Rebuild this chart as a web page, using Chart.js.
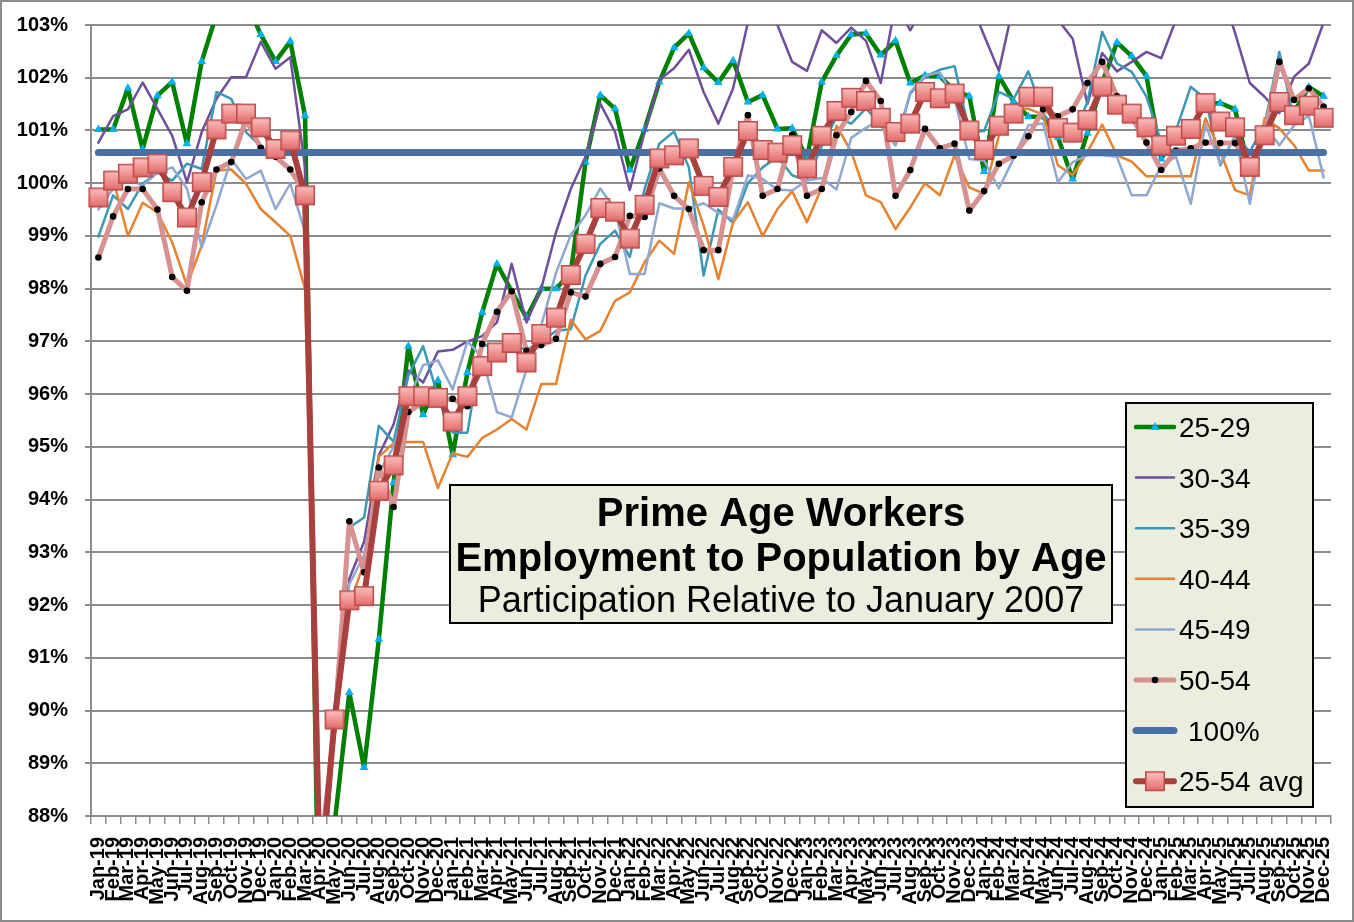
<!DOCTYPE html>
<html>
<head>
<meta charset="utf-8">
<title>Prime Age Workers</title>
<script src="https://cdn.jsdelivr.net/npm/chart.js@4.4.1/dist/chart.umd.min.js"></script>
<style>
  html, body { margin: 0; padding: 0; background: #fff; }
  #wrap { position: relative; width: 1354px; height: 922px; }
</style>
</head>
<body>
<div id="wrap"><canvas id="chart" width="1354" height="922"></canvas></div>
<script>
// month labels, Jan-19 .. Dec-25
const monthNames = ["Jan","Feb","Mar","Apr","May","Jun","Jul","Aug","Sep","Oct","Nov","Dec"];
const years = ["19","20","21","22","23","24","25"];
const labels = [];
years.forEach(y => monthNames.forEach(m => labels.push(m + "-" + y)));

// employment to population, % of January 2007 level
const age2529 = [
  101.02,101.02,101.80,100.65,101.66,101.92,100.75,102.31,103.20,103.60,103.45,102.82,
  102.31,102.69,101.28, 84.50, 87.85, 90.34, 88.92, 91.35, 94.32, 96.91, 95.61, 96.26,
   94.85, 96.41, 97.55, 98.47, 97.95, 97.45, 98.00, 98.00, 98.30,100.40,101.67,101.41,
  100.25,101.02,101.92,102.57,102.84,102.19,101.91,102.32,101.54,101.67,101.03,101.04,
  100.47,101.92,102.42,102.82,102.84,102.43,102.70,101.90,102.04,102.03,101.75,101.65,
  100.22,102.03,101.55,101.26,101.26,100.87,100.08,100.95,101.90,102.67,102.41,102.03,
  100.46,100.95,101.05,101.50,101.52,101.40,100.20,100.90,101.50,101.35,101.82,101.65
];
const age3034 = [
  100.77,101.27,101.40,101.91,101.41,100.90,100.02,100.97,101.60,102.01,102.01,102.68,
  102.17,102.39,100.30, 86.00, 89.60, 92.50, 93.20, 94.84, 95.43, 96.45, 96.22, 96.81,
   96.84, 97.00, 97.10, 97.36, 98.47, 97.36, 98.00, 99.07, 99.89,100.50,101.51,100.97,
   99.87,100.97,101.96,102.18,102.53,101.73,101.13,101.80,103.05,103.80,103.00,102.30,
  102.13,102.90,102.66,102.95,102.70,101.90,103.40,102.90,103.40,103.80,103.90,103.50,
  102.80,102.13,103.40,104.00,103.80,103.10,102.74,101.50,102.47,102.12,102.30,102.49,
  102.37,103.10,103.60,104.00,103.70,102.85,101.90,101.64,101.33,102.02,102.27,103.05
];
const age3539 = [
   98.99, 99.77, 99.51, 99.99,100.20,100.05,100.37,100.27,101.73,101.60,100.97,100.70,
  100.50,100.80, 99.80, 86.50, 90.03, 93.47, 93.66, 95.40, 95.10, 96.35, 96.91, 95.96,
   95.27, 95.27, 96.97, 96.80, 96.90, 96.85, 96.98, 97.20, 97.23, 98.25, 98.85, 99.10,
   98.60, 99.89,100.75,100.98,100.30, 98.25, 99.50, 99.25,100.00,100.30,100.50,100.15,
  100.05,100.70,101.25,101.13,101.42,101.10,100.72,101.70,102.02,102.15,102.22,100.97,
  100.99,101.73,101.60,102.12,101.32,100.97,100.85,101.54,102.87,102.27,102.11,101.64,
  100.78,101.00,101.83,101.60,100.34,100.90,100.60,101.10,102.49,101.20,101.50,101.50
];
const age4044 = [
   99.80,100.08, 99.00, 99.63, 99.45, 98.88, 98.06, 98.82,100.24,100.26, 99.99, 99.51,
   99.26, 99.00, 97.99, 86.80, 89.50, 92.00, 92.80, 94.81, 95.07, 95.09, 95.09, 94.22,
   94.88, 94.81, 95.17, 95.33, 95.53, 95.33, 96.19, 96.19, 97.41, 97.04, 97.20, 97.77,
   97.93, 98.50, 98.91, 98.66,100.02, 99.20, 98.18, 99.26, 99.64, 99.00, 99.51, 99.85,
   99.26, 99.92,101.09,100.60, 99.77, 99.64, 99.13, 99.54,100.00, 99.77,100.53, 99.92,
   99.80,100.90,101.41,101.41,101.30,100.34,100.15,100.59,101.11,100.53,100.41,100.13,
  100.13,100.13,100.13,101.23,100.60, 99.87, 99.77,101.23,101.04,100.72,100.24,100.24
];
const age4549 = [
   99.50, 99.90,100.10, 99.95,100.20,100.30, 99.90, 98.78, 99.58,100.46,100.08,100.24,
   99.51, 99.99, 99.07, 87.30, 89.90, 92.40, 92.94, 94.50, 95.00, 95.90, 96.55, 96.64,
   96.09, 97.00, 96.70, 95.66, 95.56, 96.47, 97.30, 98.30, 99.02, 99.39, 99.90, 99.50,
   98.28, 98.28, 99.62, 99.52, 99.52, 99.62, 99.44, 99.31,100.15,100.08, 99.88, 99.86,
  100.05,100.10, 99.88,100.86,101.05,101.22,100.72,101.73,102.04,102.10,101.60,100.46,
  100.43, 99.90,100.47,101.10,101.13,100.02,100.40,100.53,100.53,100.50, 99.77, 99.77,
  100.34,100.50, 99.61,101.11,100.37,100.90, 99.61,101.10,100.72,101.10,101.28,100.11
];
const age5054 = [
   98.59, 99.37, 99.89, 99.89, 99.50, 98.22, 97.96, 99.64,100.26,100.40,101.20,100.67,
  100.50,100.26, 99.80, 87.20, 89.70, 93.59, 92.62, 94.61, 93.86, 95.66, 95.85, 95.90,
   95.91, 95.77, 96.95, 97.56, 97.95, 96.82, 96.93, 97.05, 97.93, 97.85, 98.47, 98.60,
   99.38, 99.36,100.28, 99.76, 99.51, 98.73, 98.73,100.30,101.29, 99.76, 99.89,100.92,
   99.76, 99.89,100.91,101.35,101.94,101.56, 99.76,100.25,101.03,100.66,100.75, 99.48,
   99.85,100.37,100.52,100.89,101.40,101.27,101.40,101.90,102.30,101.65,101.25,100.77,
  100.25,100.62,100.66,100.77,100.76,100.76,100.30,100.90,102.30,101.58,101.80,101.45
];
const avg2554 = [
   99.73,100.05,100.18,100.30,100.37, 99.83, 99.35,100.02,101.02,101.32,101.32,101.06,
  100.65,100.81, 99.77, 86.60, 89.83, 92.09, 92.17, 94.17, 94.65, 95.96, 95.96, 95.93,
   95.48, 95.96, 96.53, 96.79, 96.97, 96.60, 97.14, 97.45, 98.26, 98.85, 99.53, 99.46,
   98.95, 99.59,100.47,100.53,100.66, 99.95, 99.74,100.31,100.99,100.63,100.58,100.72,
  100.28,100.90,101.37,101.62,101.56,101.24,100.97,101.13,101.73,101.61,101.70,101.00,
  100.63,101.09,101.32,101.64,101.64,101.05,100.96,101.20,101.83,101.49,101.32,101.06,
  100.72,100.90,101.03,101.52,101.17,101.06,100.31,100.91,101.54,101.29,101.47,101.24
];
const refLevel = 100.58;
const refLine = labels.map(() => refLevel);

// y axis range and steps
const yMin = 88, yMax = 103, yStep = 1;

const FONT = "'Liberation Sans', Arial, Helvetica, sans-serif";

// gradient square marker used by the average series
function makeSquare(size) {
  const c = document.createElement("canvas");
  c.width = size + 2; c.height = size + 2;
  const g = c.getContext("2d");
  const grad = g.createLinearGradient(0, 1, 0, size + 1);
  grad.addColorStop(0, "#FBC2C1");
  grad.addColorStop(1, "#E26868");
  g.fillStyle = grad;
  g.fillRect(1, 1, size, size);
  g.strokeStyle = "#BC4A48";
  g.lineWidth = 1.5;
  g.strokeRect(1.75, 1.75, size - 1.5, size - 1.5);
  return c;
}
const squareImg = makeSquare(20);

const series = [
  { label: "25-29", data: age2529, color: "#008000", width: 4.5, marker: "triangle", mColor: "#00B0F0", mRadius: 5 },
  { label: "30-34", data: age3034, color: "#6F4F9C", width: 2.5 },
  { label: "35-39", data: age3539, color: "#3B99B6", width: 2.5 },
  { label: "40-44", data: age4044, color: "#E8822E", width: 2.5 },
  { label: "45-49", data: age4549, color: "#8EA8D2", width: 2.5 },
  { label: "50-54", data: age5054, color: "#D69190", width: 5, marker: "circle", mColor: "#000000", mRadius: 3.3 },
  { label: "100%", data: refLine, color: "#4870A6", width: 7 },
  { label: "25-54 avg", data: avg2554, color: "#A8403E", width: 6, marker: squareImg }
];

const datasets = series.map((s, i) => ({
  label: s.label,
  data: s.data,
  borderColor: s.color,
  borderWidth: s.width,
  borderCapStyle: "round",
  borderJoinStyle: "round",
  tension: 0,
  pointStyle: s.marker || "circle",
  pointRadius: s.marker ? (s.mRadius || 10) : 0,
  pointHoverRadius: s.marker ? (s.mRadius || 10) : 0,
  pointBackgroundColor: s.mColor || s.color,
  pointBorderColor: s.mColor || s.color,
  pointBorderWidth: 0,
  order: series.length - i   // later series drawn on top
}));

// frame, title box and legend
const decorPlugin = {
  id: "decor",
  afterDraw(chart) {
    const ctx = chart.ctx;
    ctx.save();

    // outer frame
    ctx.strokeStyle = "#8C8C8C";
    ctx.lineWidth = 2;
    ctx.strokeRect(1, 1, 1352, 920);

    // title box
    ctx.fillStyle = "#EBEEDF";
    ctx.fillRect(450, 485, 662, 138);
    ctx.strokeStyle = "#000";
    ctx.lineWidth = 2;
    ctx.strokeRect(450, 485, 662, 138);
    ctx.fillStyle = "#000";
    ctx.textAlign = "center";
    ctx.textBaseline = "alphabetic";
    ctx.font = "bold 40px " + FONT;
    ctx.fillText("Prime Age Workers", 781, 526);
    ctx.fillText("Employment to Population by Age", 781, 571);
    ctx.font = "36px " + FONT;
    ctx.fillText("Participation Relative to January 2007", 781, 612);

    // legend
    ctx.fillStyle = "#EBEEDF";
    ctx.fillRect(1126, 403, 187, 404);
    ctx.strokeStyle = "#000";
    ctx.lineWidth = 2;
    ctx.strokeRect(1126, 403, 187, 404);
    ctx.font = "28px " + FONT;
    ctx.textAlign = "left";
    series.forEach((s, i) => {
      const base = 437 + i * 50.6;
      const cy = base - 10;
      ctx.strokeStyle = s.color;
      ctx.lineWidth = s.width;
      ctx.lineCap = "round";
      ctx.beginPath();
      ctx.moveTo(1136, cy);
      ctx.lineTo(1174, cy);
      ctx.stroke();
      if (s.marker === squareImg) {
        ctx.drawImage(squareImg, 1155 - squareImg.width / 2, cy - squareImg.height / 2);
      } else if (s.marker === "triangle") {
        ctx.fillStyle = s.mColor;
        ctx.beginPath();
        ctx.moveTo(1155, cy - 5);
        ctx.lineTo(1159.5, cy + 3);
        ctx.lineTo(1150.5, cy + 3);
        ctx.closePath();
        ctx.fill();
      } else if (s.marker === "circle") {
        ctx.fillStyle = s.mColor;
        ctx.beginPath();
        ctx.arc(1155, cy, 3.3, 0, Math.PI * 2);
        ctx.fill();
      }
      ctx.fillStyle = "#000";
      ctx.fillText(s.label, s.label === "100%" ? 1188 : 1179, base);
    });
    ctx.restore();
  }
};

new Chart(document.getElementById("chart"), {
  type: "line",
  data: { labels: labels, datasets: datasets },
  options: {
    responsive: false,
    animation: false,
    devicePixelRatio: 1,
    layout: { padding: { top: 25, right: 23, bottom: 0, left: 0 } },
    plugins: {
      legend: { display: false },
      tooltip: { enabled: false }
    },
    scales: {
      x: {
        offset: true,
        grid: { display: true, drawOnChartArea: false, drawTicks: true, tickLength: 8, color: "#8C8C8C", lineWidth: 1.5, offset: true },
        border: { display: true, color: "#8C8C8C", width: 2 },
        ticks: {
          autoSkip: false, maxRotation: 90, minRotation: 90, padding: 13,
          color: "#000", font: { family: FONT, weight: "bold", size: 20 }
        },
        afterFit(scale) {
          scale.height = 106;
          scale.paddingLeft = 0;
          scale.paddingRight = 0;
        }
      },
      y: {
        min: yMin, max: yMax,
        ticks: {
          stepSize: yStep, padding: 17, color: "#000",
          font: { family: FONT, weight: "bold", size: 20 },
          callback: v => v + "%"
        },
        grid: { color: "#8C8C8C", lineWidth: 2, tickLength: 6 },
        border: { display: true, color: "#8C8C8C", width: 2 },
        afterFit(scale) {
          scale.width = 91;
          scale.paddingTop = 0;
          scale.paddingBottom = 0;
        }
      }
    }
  },
  plugins: [decorPlugin]
});
</script>
</body>
</html>
